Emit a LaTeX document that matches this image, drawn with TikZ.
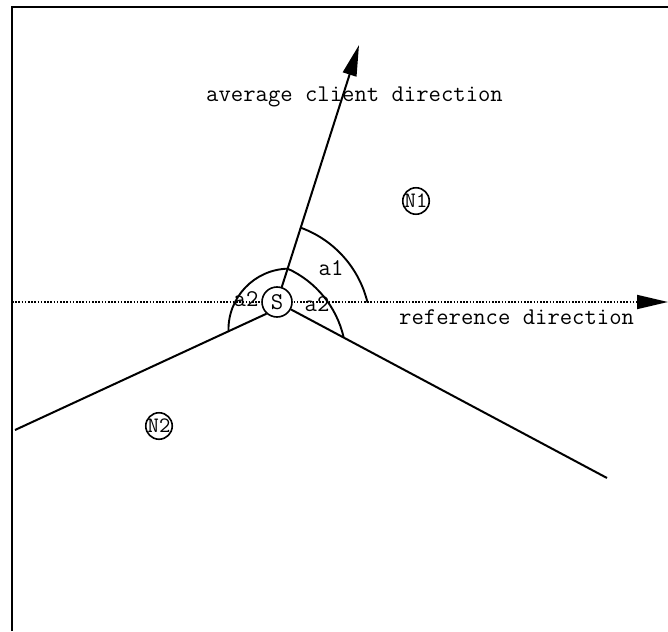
\documentclass[tikz,border=0pt]{standalone}
\usetikzlibrary{arrows.meta,calc}
\begin{document}
\begin{tikzpicture}[yscale=-1, x=1pt, y=1pt,
  ln/.style={line width=2pt},
  arcln/.style={line width=1.9pt},
  framel/.style={line width=1.8pt},
  dotl/.style={line width=1.8pt, dash pattern=on 1.6pt off 1.6pt},
  lbl/.style={font=\fontsize{24}{28}\selectfont\ttfamily, inner sep=0pt},
  bigtxt/.style={font=\fontsize{24}{28}\selectfont\ttfamily, inner sep=0pt},
  circ/.style={circle, draw, line width=1.6pt, inner sep=0pt, fill=white,
    font=\fontsize{22}{26}\selectfont\ttfamily},
  tipa/.style={-{Triangle[length=31pt,width=14pt]}},
]
\useasboundingbox (0,0) rectangle (668,631);
% frame
\coordinate (FB) at (12,631);
\coordinate (FC) at (12,7);
\coordinate (FR) at (668,7);
\draw[framel] (FB) -- (FC) -- (FR);
% reference direction (dotted)
\coordinate (H0) at (12,302);
\coordinate (H1) at (668,302);
\draw[dotl, tipa] (H0) -- (H1);
% server node
\node[circ, minimum size=30pt, font=\fontsize{24}{28}\selectfont\ttfamily] (S) at (277,302) {S};
\node[circ, minimum size=25pt] (N1) at (416,201) {N1};
\node[circ, minimum size=25pt] (N2) at (159,426) {N2};
% end points
\coordinate (T) at (359,45);
\coordinate (R) at (607,478);
\coordinate (L) at (15,430);
% lines
\draw[ln, tipa] (S) -- (T);
\draw[ln] (S) -- (R);
\draw[ln] (S.228) -- (L);
% arcs
\coordinate (J) at ($(S)!35pt!(T)$);
\coordinate (A1) at ($(S)!78pt!(T)$);
\draw[arcln] (J) arc[start angle=-65.5, end angle=-13.1, radius=100pt];
\draw[arcln] (J) arc[start angle=-91.7, end angle=-181.6, radius=61pt];
\draw[arcln] (A1) arc[start angle=-70, end angle=-13.6, radius=106pt];
% labels
\node[bigtxt, anchor=base west] (avg) at (206,102) {average client direction};
\node[bigtxt, anchor=base west] (ref) at (399,324) {reference direction};
\node[lbl, anchor=base] (a1) at (331,275) {a1};
\node[lbl, anchor=base] (a2l) at (246,306.5) {a2};
\node[lbl, anchor=base] (a2r) at (317,311) {a2};
\end{tikzpicture}
\end{document}
